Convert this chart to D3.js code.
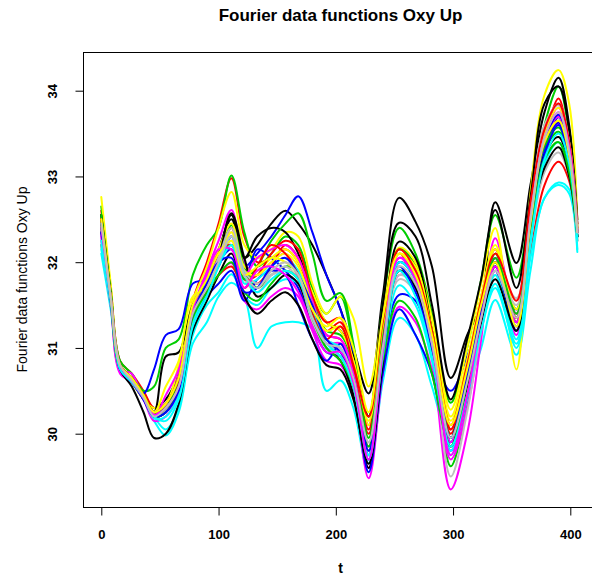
<!DOCTYPE html>
<html><head><meta charset="utf-8">
<script src="https://cdn.jsdelivr.net/npm/d3@7"></script>
<style>body{margin:0;background:#fff}svg{display:block}</style>
</head><body><svg id="chart" width="592" height="580"></svg>
<script>
const tGrid = [0,8,16,26,36,45,55,66,78,90,100,111,122,133,145,157,168,180,192,204,215,228,240,254,268,282,298,312,324,336,354,366,378,390,399,406];

const s01 = [32.55,31.65,30.80,30.65,30.45,30.30,30.40,30.70,31.50,31.80,32.15,32.50,32.05,32.20,32.45,32.60,32.45,32.20,31.85,31.45,31.00,30.47,31.60,32.75,32.47,31.95,30.65,31.15,31.50,32.70,31.99,32.90,33.75,34.15,33.60,32.45];
const s02 = [32.60,31.70,30.85,30.70,30.50,30.30,30.35,30.60,31.55,32.00,32.45,32.98,32.30,32.00,32.05,32.15,32.00,31.55,31.20,31.30,30.85,30.10,31.25,32.15,31.95,31.20,30.05,30.75,31.60,32.15,31.30,32.40,33.40,33.91,33.30,32.45];
const s03 = [32.65,31.70,30.85,30.70,30.50,30.55,31.00,31.10,31.85,32.20,32.40,33.01,32.35,31.95,32.10,32.30,32.20,31.70,31.40,31.60,31.00,30.20,31.50,32.40,32.10,31.40,30.36,31.00,31.80,32.55,31.82,32.70,33.60,34.05,33.50,32.40];
const s04 = [32.45,31.60,30.80,30.65,30.47,30.75,31.15,31.22,31.75,31.80,31.95,32.30,31.95,32.10,32.30,32.55,32.77,32.35,31.85,31.45,30.90,29.75,30.90,31.62,31.55,30.95,30.50,30.90,31.40,32.00,31.45,32.40,33.30,33.69,33.20,32.35];
const s05 = [32.10,31.45,30.75,30.60,30.40,30.15,29.98,30.25,31.05,31.30,31.60,31.76,31.60,31.00,31.25,31.30,31.30,31.22,30.50,30.62,30.30,29.55,30.60,31.35,31.15,30.55,29.90,30.50,31.00,31.56,30.92,31.90,32.75,32.90,32.80,32.12];
const s06 = [32.30,31.55,30.75,30.70,30.40,30.20,30.25,30.70,31.45,31.90,32.25,32.61,32.00,31.85,32.00,32.10,31.80,31.25,31.05,31.05,30.55,29.48,30.70,31.85,31.75,30.90,29.35,30.00,31.10,32.28,31.35,32.35,33.25,33.62,33.15,32.30];
const s07 = [32.76,31.75,30.80,30.60,30.40,30.30,30.35,30.80,31.55,31.95,32.40,32.82,32.20,32.05,32.15,32.35,32.30,31.75,31.40,31.60,31.35,30.55,31.40,32.17,32.00,31.35,30.28,31.00,31.75,32.40,30.75,32.80,33.95,34.24,33.85,32.50];
const s08 = [32.35,31.60,30.75,30.62,30.40,30.20,30.25,30.50,31.35,31.70,32.00,32.35,31.85,31.70,31.90,32.00,31.85,31.40,31.10,31.00,30.65,29.90,31.00,31.85,31.70,31.05,29.95,30.70,31.40,31.95,31.58,32.65,33.60,33.83,33.40,32.35];
const s09 = [32.55,31.65,30.80,30.62,30.42,30.25,30.90,30.95,31.50,31.75,32.10,32.55,32.05,32.30,32.40,32.35,32.10,31.60,31.30,31.20,30.90,30.20,31.50,32.46,32.30,31.50,30.40,31.10,31.80,32.61,31.70,32.75,33.85,34.05,33.55,32.50];
const s10 = [32.20,31.50,30.75,30.60,30.40,30.20,30.30,30.55,31.30,31.65,32.05,32.40,31.90,31.75,31.95,32.20,32.05,31.50,31.15,31.10,30.75,30.00,31.10,32.00,31.85,31.10,30.00,30.70,31.45,31.95,31.20,32.10,32.90,33.17,32.95,32.25];
const s11 = [32.50,31.60,30.80,30.65,30.45,30.25,30.30,30.55,31.40,31.75,32.05,32.43,31.95,31.70,31.85,31.95,31.90,31.55,31.20,31.15,30.80,29.80,30.95,31.90,31.75,31.00,29.62,30.35,31.35,32.10,31.35,32.40,33.30,33.52,33.15,32.30];
const s12 = [32.40,31.60,30.75,30.60,30.40,30.20,30.25,30.55,31.35,31.70,32.00,32.15,31.80,32.15,32.05,31.90,31.70,31.25,30.95,30.90,30.55,29.70,31.05,32.00,31.80,31.05,29.90,30.60,31.45,32.05,31.25,32.35,33.30,33.63,33.20,32.30];
const s13 = [32.15,31.50,30.75,30.62,30.45,30.20,30.05,30.30,31.15,31.50,31.65,31.86,31.60,31.50,31.70,31.80,31.75,31.40,31.00,30.95,30.55,29.65,30.85,31.73,31.50,30.85,29.75,30.40,31.20,31.70,31.05,32.05,32.75,32.93,32.85,32.15];
const s14 = [32.25,31.50,30.70,30.60,30.40,30.15,30.20,30.45,31.30,31.65,31.85,31.99,31.55,31.45,31.60,31.70,31.60,31.20,30.85,30.80,30.45,29.60,30.70,31.48,31.30,30.75,29.70,30.30,31.20,31.90,31.15,32.40,33.45,33.80,33.35,32.35];
const s15 = [32.45,31.60,30.80,30.65,30.45,30.25,30.30,30.60,31.45,31.80,32.15,32.45,31.95,31.90,32.05,32.15,32.00,31.65,31.30,31.20,30.85,30.10,31.20,32.05,31.95,31.25,30.15,30.85,31.60,32.20,31.30,32.50,33.45,33.70,33.30,32.35];
const s16 = [32.30,31.55,30.75,30.60,30.42,30.22,30.28,30.55,31.40,31.72,32.00,32.25,31.80,31.65,31.85,31.95,31.80,31.35,31.05,30.95,30.60,29.80,30.95,31.80,31.65,31.00,29.85,30.55,31.30,31.85,31.25,32.25,33.05,33.28,33.00,32.25];
const s17 = [32.50,31.60,30.80,30.62,30.42,30.20,30.30,30.60,31.40,31.70,32.05,32.57,32.05,31.60,31.70,31.85,31.75,31.30,31.00,30.85,30.45,29.60,31.00,32.24,32.05,31.20,29.95,30.75,31.40,31.95,31.45,32.55,33.25,33.46,33.10,32.35];
const s18 = [32.35,31.55,30.80,30.65,30.45,30.25,30.30,30.60,31.40,31.75,32.10,32.20,31.80,31.85,32.10,32.25,32.15,31.60,31.30,31.35,30.80,30.05,31.20,32.10,31.80,31.20,30.05,30.70,31.55,32.00,31.35,32.50,33.40,33.65,33.25,32.35];
const s19 = [32.55,31.65,30.80,30.65,30.45,30.25,30.30,30.65,31.45,31.80,32.00,32.20,31.80,31.95,32.25,32.45,32.57,32.10,31.55,31.64,31.05,29.95,31.20,32.15,31.95,31.20,29.95,30.70,31.40,32.00,31.40,32.50,33.35,33.57,33.20,32.35];
const s20 = [32.35,31.55,30.75,30.60,30.40,30.20,30.25,30.50,31.30,31.60,31.75,31.90,31.55,31.80,31.90,31.85,31.50,31.10,30.85,31.05,30.60,29.55,30.70,31.45,31.15,30.70,29.80,30.45,31.30,31.90,31.20,32.30,33.25,33.60,33.15,32.30];
const s21 = [32.20,31.50,30.75,30.62,30.42,30.18,30.20,30.45,31.30,31.65,31.95,32.20,31.75,31.80,31.95,32.05,31.90,31.45,31.10,31.00,30.60,29.75,30.90,32.00,31.80,31.00,29.80,30.50,31.30,31.85,31.10,32.30,33.15,33.40,33.05,32.30];
const s22 = [32.30,31.55,30.75,30.60,30.42,30.20,30.45,30.75,31.40,31.75,32.05,32.30,31.85,32.05,32.15,32.20,32.05,31.55,31.15,31.10,30.70,29.85,31.00,32.05,31.90,31.10,29.90,30.60,31.40,32.05,31.40,32.55,33.40,33.70,33.30,32.35];
const s23 = [32.40,31.60,30.80,30.62,30.42,30.25,30.55,30.85,31.60,31.70,32.00,32.35,31.90,31.85,32.00,32.10,31.95,31.50,31.20,31.25,30.85,30.15,31.25,32.10,31.95,31.20,30.20,30.85,31.60,32.15,31.45,32.60,33.50,33.80,33.40,32.40];
const s24 = [32.40,31.60,30.75,30.62,30.42,30.22,30.25,30.50,31.35,31.70,32.05,32.40,31.90,31.75,31.85,31.90,31.80,31.30,31.00,30.90,30.55,29.70,30.95,31.90,31.70,31.00,29.50,30.25,31.20,31.90,31.50,32.60,33.55,33.85,33.40,32.40];
const s25 = [32.45,31.60,30.75,30.55,30.25,29.95,30.00,30.35,31.20,31.55,31.85,32.10,31.60,31.40,31.55,31.65,31.50,31.10,30.80,30.75,30.40,29.65,30.80,31.90,31.70,30.95,29.85,30.55,31.30,31.80,31.20,32.45,33.10,33.34,33.00,32.30];
const s26 = [32.50,31.60,30.80,30.65,30.45,30.25,30.35,30.65,31.40,31.65,31.85,31.95,31.70,31.95,32.20,32.10,31.85,31.40,31.10,31.25,30.80,30.20,31.30,32.15,31.90,31.20,30.10,30.80,31.55,32.10,31.55,32.70,33.55,33.85,33.40,32.40];
const s27 = [32.40,31.55,30.75,30.62,30.42,30.20,30.25,30.55,31.35,31.65,31.85,32.00,31.65,31.55,31.75,31.90,31.80,31.35,31.00,30.85,30.55,29.85,30.85,31.55,31.35,30.70,29.85,30.60,31.40,32.05,31.40,32.40,33.20,33.40,33.05,32.30];
const s28 = [32.35,31.55,30.75,30.60,30.40,30.20,30.25,30.50,31.40,31.75,32.00,32.05,31.65,31.70,31.95,32.05,31.85,31.50,31.10,30.95,30.65,29.80,30.95,31.95,31.65,31.00,29.95,30.70,31.45,31.95,31.30,32.45,33.40,33.72,33.30,32.35];
const s29 = [32.25,31.55,30.75,30.60,30.42,30.20,30.15,30.40,31.25,31.60,31.95,32.30,31.85,31.65,31.80,31.90,31.80,31.35,31.05,30.90,30.55,29.70,30.90,31.90,31.60,30.90,29.85,30.45,31.20,31.75,31.00,32.20,33.20,33.50,33.15,32.25];
const s30 = [32.40,31.60,30.80,30.62,30.42,30.22,30.30,30.55,31.45,31.85,32.15,32.15,31.70,31.90,31.95,31.85,31.65,31.25,30.95,30.95,30.60,29.70,30.95,32.05,31.80,31.05,29.75,30.45,31.35,31.95,31.30,32.50,33.45,33.75,33.35,32.35];
const s31 = [32.50,31.60,30.80,30.65,30.45,30.25,30.35,30.65,31.50,31.80,32.10,32.25,31.85,31.95,32.05,32.00,31.85,31.45,31.25,31.35,31.00,30.25,31.35,32.10,31.85,31.15,30.10,30.75,31.50,32.00,31.25,32.45,33.40,33.65,33.25,32.35];
const s32 = [32.45,31.60,30.80,30.62,30.42,30.20,30.30,30.55,31.40,31.70,32.00,32.30,31.85,31.70,31.90,32.00,31.85,31.35,31.05,31.00,30.65,29.90,31.00,31.95,31.75,31.05,29.95,30.60,31.35,31.90,31.35,32.50,33.45,33.75,33.30,32.35];

const seriesList = [s01,s02,s03,s04,s05,s06,s07,s08,s09,s10,s11,s12,s13,s14,s15,s16,
                    s17,s18,s19,s20,s21,s22,s23,s24,s25,s26,s27,s28,s29,s30,s31,s32];
const palette = ["#000000","#FF0000","#00CD00","#0000FF","#00FFFF","#FF00FF","#FFFF00","#BEBEBE"];
const xTicks = [0,100,200,300,400];
const yTicks = [30,31,32,33,34];
const titleText = "Fourier data functions Oxy Up";
const xLabelText = "t";
const yLabelText = "Fourier data functions Oxy Up";

const FONT = "'Liberation Sans', Arial, Helvetica, sans-serif";
const svg = d3.select("#chart");
const box = {left: 83, right: 598, top: 52, bottom: 507};
const x = d3.scaleLinear().domain([0, 400]).range([101.3, 570.3]);
const y = d3.scaleLinear().domain([30, 34]).range([433.7, 90.7]);

// curves
const line = d3.line()
  .x((d, i) => x(tGrid[i]))
  .y(d => y(d))
  .curve(d3.curveCatmullRom.alpha(0.5));

svg.append("g").selectAll("path")
  .data(seriesList)
  .join("path")
  .attr("d", d => line(d))
  .attr("fill", "none")
  .attr("stroke", (d, i) => palette[i % palette.length])
  .attr("stroke-width", 2)
  .attr("stroke-linejoin", "round")
  .attr("stroke-linecap", "round");

// box
svg.append("rect")
  .attr("x", box.left + 0.5).attr("y", box.top + 0.5)
  .attr("width", box.right - box.left).attr("height", box.bottom - box.top)
  .attr("fill", "none").attr("stroke", "#000").attr("stroke-width", 1);

// x axis
const gx = svg.append("g")
  .attr("transform", `translate(0,${box.bottom + 0.5})`)
  .call(d3.axisBottom(x).tickValues(xTicks).tickSize(8).tickSizeOuter(0).tickFormat(d3.format("d")));
gx.select(".domain").remove();
gx.selectAll(".tick line").attr("stroke", "#000");
gx.selectAll(".tick text")
  .attr("y", 31).attr("dy", null)
  .attr("font-family", FONT).attr("font-size", 13).attr("font-weight", "bold").attr("fill", "#000");

// y axis
const gy = svg.append("g")
  .attr("transform", `translate(${box.left + 0.5},0)`)
  .call(d3.axisLeft(y).tickValues(yTicks).tickSize(8).tickSizeOuter(0).tickFormat(d3.format("d")));
gy.select(".domain").remove();
gy.selectAll(".tick line").attr("stroke", "#000");
gy.selectAll(".tick text")
  .attr("x", null).attr("dy", null)
  .attr("transform", "translate(-27,0) rotate(-90)")
  .attr("text-anchor", "middle")
  .attr("font-family", FONT).attr("font-size", 13).attr("font-weight", "bold").attr("fill", "#000");

// title & labels
svg.append("text")
  .attr("x", (box.left + box.right) / 2).attr("y", 21)
  .attr("text-anchor", "middle")
  .attr("font-family", FONT).attr("font-size", 17).attr("font-weight", "bold")
  .text(titleText);

svg.append("text")
  .attr("x", (box.left + box.right) / 2).attr("y", 573)
  .attr("text-anchor", "middle")
  .attr("font-family", FONT).attr("font-size", 14).attr("font-weight", "bold")
  .text(xLabelText);

svg.append("text")
  .attr("transform", `translate(27,${(box.top + box.bottom) / 2}) rotate(-90)`)
  .attr("text-anchor", "middle")
  .attr("font-family", FONT).attr("font-size", 14)
  .text(yLabelText);
</script>
</body></html>
